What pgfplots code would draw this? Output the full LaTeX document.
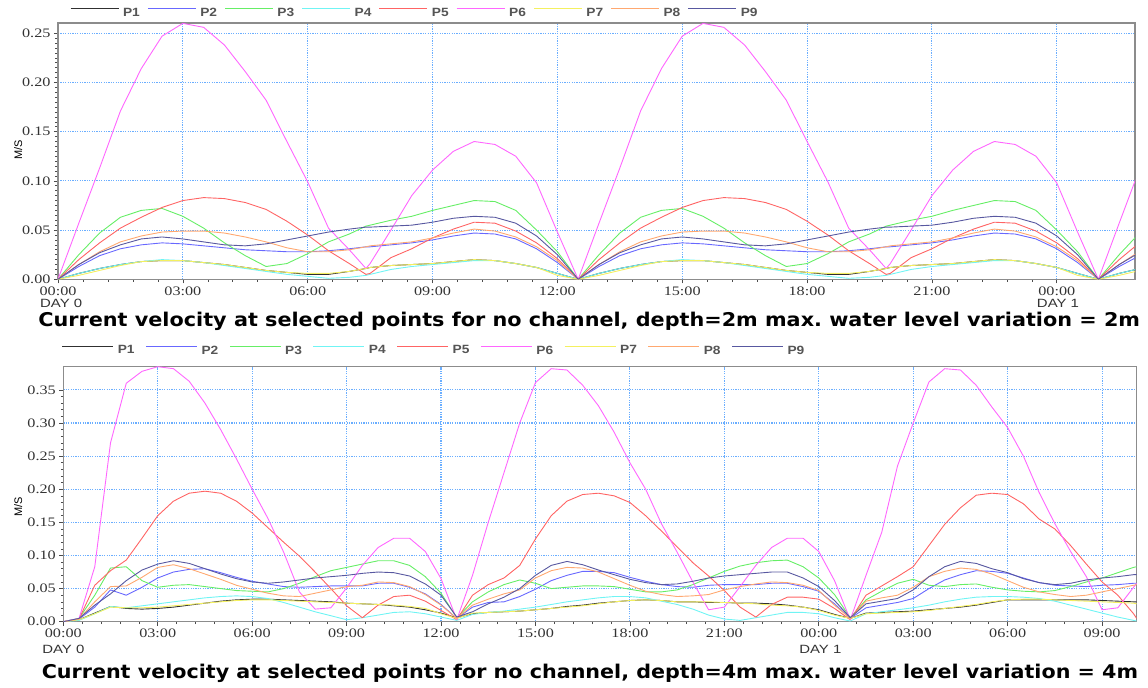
\documentclass[border=0pt]{standalone}
\usepackage{pgfplots}
\pgfplotsset{compat=1.18}
\usepackage{pgfplotstable}
\usepackage{graphicx}
\usepackage{fontspec}
\setmainfont{Liberation Serif}
\newfontfamily\lsans{Liberation Sans}
\newfontfamily\dsans{DejaVu Sans}

\definecolor{cP1}{HTML}{303030}
\definecolor{cP2}{HTML}{6868FF}
\definecolor{cP3}{HTML}{66EE66}
\definecolor{cP4}{HTML}{70F4F4}
\definecolor{cP5}{HTML}{FF6464}
\definecolor{cP6}{HTML}{FF66FF}
\definecolor{cP7}{HTML}{F4F060}
\definecolor{cP8}{HTML}{FFA870}
\definecolor{cP9}{HTML}{5858A0}
\definecolor{gridc}{HTML}{6AAEFF}
\definecolor{legc}{HTML}{555555}
\definecolor{tickc}{HTML}{333333}

\newcommand\tx[1]{\scalebox{1.25}[1]{#1}}
\newcommand\lgd[1]{\scalebox{1.15}[1]{#1}}

\pgfplotstableread{
t p1 p2 p3 p4 p5 p6 p7 p8 p9
0.0 0 0 0 0 0 0 0 0 0
0.5 0.006 0.013 0.025 0.006 0.020 0.057 0.004 0.015 0.015
1.0 0.011 0.024 0.047 0.011 0.037 0.113 0.009 0.028 0.027
1.5 0.015 0.031 0.063 0.015 0.052 0.171 0.014 0.038 0.035
2.0 0.018 0.035 0.070 0.018 0.063 0.214 0.018 0.044 0.041
2.5 0.019 0.037 0.072 0.020 0.073 0.247 0.019 0.048 0.043
3.0 0.019 0.036 0.064 0.019 0.080 0.260 0.019 0.049 0.041
3.5 0.017 0.034 0.052 0.017 0.083 0.256 0.017 0.049 0.038
4.0 0.015 0.032 0.037 0.014 0.082 0.238 0.015 0.047 0.035
4.5 0.012 0.030 0.024 0.011 0.078 0.211 0.012 0.043 0.034
5.0 0.009 0.029 0.013 0.008 0.071 0.182 0.009 0.038 0.036
5.5 0.007 0.028 0.016 0.005 0.059 0.140 0.007 0.032 0.040
6.0 0.005 0.028 0.026 0.003 0.045 0.099 0.006 0.028 0.044
6.5 0.005 0.029 0.038 0.001 0.029 0.052 0.006 0.028 0.048
7.0 0.008 0.031 0.046 0.002 0.016 0.030 0.008 0.030 0.051
7.4 0.011 0.033 0.054 0.004 0.005 0.011 0.011 0.033 0.053
7.5 0.012 0.033 0.055 0.005 0.006 0.016 0.012 0.034 0.053
8.0 0.014 0.035 0.060 0.010 0.022 0.050 0.014 0.036 0.054
8.5 0.015 0.037 0.064 0.013 0.031 0.085 0.015 0.038 0.055
9.0 0.016 0.040 0.070 0.015 0.042 0.111 0.016 0.042 0.058
9.5 0.018 0.044 0.075 0.017 0.051 0.130 0.018 0.047 0.062
10.0 0.020 0.047 0.080 0.019 0.058 0.140 0.020 0.051 0.064
10.5 0.019 0.046 0.079 0.019 0.057 0.137 0.019 0.049 0.063
11.0 0.016 0.041 0.070 0.016 0.049 0.125 0.016 0.043 0.057
11.5 0.012 0.031 0.050 0.012 0.037 0.098 0.012 0.033 0.044
12.0 0.006 0.017 0.028 0.006 0.021 0.048 0.004 0.019 0.025
12.5 0 0 0 0 0 0 0 0 0
13.0 0.006 0.013 0.025 0.006 0.020 0.057 0.004 0.015 0.015
13.5 0.011 0.024 0.047 0.011 0.037 0.113 0.009 0.028 0.027
14.0 0.015 0.031 0.063 0.015 0.052 0.171 0.014 0.038 0.035
14.5 0.018 0.035 0.070 0.018 0.063 0.214 0.018 0.044 0.041
15.0 0.019 0.037 0.072 0.020 0.073 0.247 0.019 0.048 0.043
15.5 0.019 0.036 0.064 0.019 0.080 0.260 0.019 0.049 0.041
16.0 0.017 0.034 0.052 0.017 0.083 0.256 0.017 0.049 0.038
16.5 0.015 0.032 0.037 0.014 0.082 0.238 0.015 0.047 0.035
17.0 0.012 0.030 0.024 0.011 0.078 0.211 0.012 0.043 0.034
17.5 0.009 0.029 0.013 0.008 0.071 0.182 0.009 0.038 0.036
18.0 0.007 0.028 0.016 0.005 0.059 0.140 0.007 0.032 0.040
18.5 0.005 0.028 0.026 0.003 0.045 0.099 0.006 0.028 0.044
19.0 0.005 0.029 0.038 0.001 0.029 0.052 0.006 0.028 0.048
19.5 0.008 0.031 0.046 0.002 0.016 0.030 0.008 0.030 0.051
19.9 0.011 0.033 0.054 0.004 0.005 0.011 0.011 0.033 0.053
20.0 0.012 0.033 0.055 0.005 0.006 0.016 0.012 0.034 0.053
20.5 0.014 0.035 0.060 0.010 0.022 0.050 0.014 0.036 0.054
21.0 0.015 0.037 0.064 0.013 0.031 0.085 0.015 0.038 0.055
21.5 0.016 0.040 0.070 0.015 0.042 0.111 0.016 0.042 0.058
22.0 0.018 0.044 0.075 0.017 0.051 0.130 0.018 0.047 0.062
22.5 0.020 0.047 0.080 0.019 0.058 0.140 0.020 0.051 0.064
23.0 0.019 0.046 0.079 0.019 0.057 0.137 0.019 0.049 0.063
23.5 0.016 0.041 0.070 0.016 0.049 0.125 0.016 0.043 0.057
24.0 0.012 0.031 0.050 0.012 0.037 0.098 0.012 0.033 0.044
24.5 0.006 0.017 0.028 0.006 0.021 0.048 0.004 0.019 0.025
25.0 0 0 0 0 0 0 0 0 0
25.5 0.006 0.013 0.025 0.006 0.020 0.057 0.004 0.015 0.015
25.9 0.010 0.022 0.043 0.010 0.034 0.102 0.008 0.026 0.025
}\toptab

\pgfplotstableread{
t p1 p2 p3 p4 p5 p6 p7 p8 p9
0.0 0 0 0 0 0 0 0 0 0
0.5 0.003 0.004 0.005 0.002 0.004 0.005 0.003 0.004 0.005
1.0 0.013 0.022 0.040 0.012 0.055 0.083 0.012 0.030 0.025
1.5 0.023 0.048 0.081 0.023 0.077 0.270 0.022 0.053 0.042
2.0 0.020 0.040 0.083 0.021 0.093 0.360 0.021 0.054 0.062
2.5 0.019 0.052 0.062 0.024 0.126 0.378 0.021 0.067 0.078
3.0 0.020 0.066 0.052 0.027 0.160 0.385 0.022 0.082 0.087
3.5 0.022 0.075 0.055 0.030 0.182 0.382 0.024 0.086 0.092
4.0 0.025 0.079 0.056 0.033 0.194 0.363 0.026 0.080 0.088
4.5 0.028 0.080 0.053 0.036 0.197 0.330 0.028 0.072 0.080
5.0 0.031 0.074 0.050 0.038 0.194 0.290 0.030 0.064 0.072
5.5 0.033 0.067 0.047 0.039 0.182 0.246 0.032 0.055 0.065
6.0 0.034 0.061 0.046 0.038 0.164 0.200 0.033 0.049 0.060
6.5 0.034 0.057 0.045 0.035 0.142 0.156 0.033 0.043 0.058
7.0 0.033 0.053 0.050 0.029 0.120 0.105 0.032 0.039 0.060
7.5 0.032 0.052 0.058 0.022 0.099 0.045 0.031 0.038 0.063
8.0 0.031 0.053 0.068 0.015 0.075 0.019 0.030 0.043 0.066
8.5 0.030 0.054 0.077 0.009 0.050 0.021 0.029 0.048 0.068
9.0 0.028 0.054 0.082 0.003 0.024 0.051 0.028 0.053 0.070
9.5 0.027 0.054 0.087 0.006 0.006 0.085 0.027 0.055 0.073
10.0 0.026 0.058 0.092 0.010 0.025 0.112 0.026 0.060 0.075
10.5 0.024 0.058 0.092 0.014 0.038 0.126 0.025 0.059 0.074
11.0 0.022 0.052 0.085 0.015 0.040 0.126 0.023 0.053 0.069
11.5 0.018 0.042 0.068 0.012 0.031 0.106 0.020 0.041 0.057
12.0 0.013 0.026 0.043 0.007 0.017 0.065 0.012 0.025 0.040
12.5 0.006 0.005 0.006 0.002 0.003 0.003 0.005 0.005 0.007
13.0 0.012 0.022 0.030 0.011 0.040 0.070 0.013 0.025 0.015
13.5 0.014 0.029 0.045 0.014 0.056 0.150 0.014 0.034 0.027
14.0 0.015 0.030 0.056 0.016 0.066 0.225 0.015 0.042 0.037
14.5 0.016 0.038 0.063 0.019 0.085 0.300 0.016 0.048 0.050
15.0 0.018 0.049 0.058 0.022 0.125 0.361 0.018 0.066 0.070
15.5 0.020 0.062 0.050 0.026 0.160 0.382 0.020 0.077 0.085
16.0 0.023 0.070 0.052 0.030 0.182 0.380 0.022 0.082 0.091
16.5 0.025 0.076 0.054 0.033 0.192 0.357 0.024 0.081 0.086
17.0 0.028 0.076 0.054 0.036 0.194 0.326 0.027 0.075 0.078
17.5 0.030 0.074 0.053 0.038 0.190 0.286 0.030 0.065 0.071
18.0 0.032 0.067 0.049 0.038 0.180 0.240 0.032 0.055 0.064
18.5 0.033 0.061 0.045 0.036 0.160 0.200 0.033 0.046 0.059
19.0 0.032 0.056 0.045 0.031 0.137 0.148 0.032 0.041 0.056
19.5 0.030 0.053 0.048 0.026 0.113 0.105 0.030 0.038 0.057
20.0 0.030 0.052 0.056 0.019 0.089 0.060 0.030 0.039 0.061
20.5 0.029 0.055 0.066 0.010 0.069 0.018 0.030 0.041 0.066
21.0 0.029 0.056 0.076 0.004 0.047 0.022 0.029 0.048 0.069
21.5 0.028 0.056 0.084 0.002 0.022 0.053 0.028 0.053 0.071
22.0 0.028 0.056 0.089 0.006 0.007 0.085 0.027 0.057 0.073
22.5 0.027 0.058 0.092 0.010 0.026 0.112 0.025 0.060 0.075
23.0 0.025 0.058 0.093 0.014 0.037 0.126 0.024 0.059 0.075
23.5 0.022 0.053 0.083 0.014 0.037 0.126 0.022 0.055 0.066
24.0 0.018 0.046 0.066 0.012 0.034 0.106 0.017 0.047 0.053
24.5 0.011 0.027 0.041 0.006 0.020 0.062 0.010 0.025 0.032
25.0 0.005 0.005 0.006 0.001 0.003 0.003 0.005 0.005 0.006
25.5 0.013 0.021 0.033 0.012 0.040 0.070 0.012 0.031 0.027
26.0 0.014 0.025 0.046 0.015 0.054 0.135 0.013 0.036 0.031
26.5 0.015 0.029 0.058 0.018 0.068 0.235 0.014 0.040 0.035
27.0 0.016 0.035 0.064 0.021 0.083 0.300 0.015 0.052 0.048
27.5 0.018 0.050 0.055 0.025 0.115 0.362 0.017 0.068 0.068
28.0 0.020 0.063 0.053 0.030 0.147 0.382 0.020 0.076 0.083
28.5 0.022 0.071 0.056 0.034 0.172 0.380 0.023 0.081 0.091
29.0 0.025 0.077 0.057 0.037 0.191 0.357 0.026 0.079 0.088
29.5 0.029 0.076 0.052 0.038 0.194 0.324 0.030 0.072 0.080
30.0 0.033 0.073 0.048 0.038 0.192 0.293 0.033 0.062 0.074
30.5 0.033 0.066 0.046 0.037 0.178 0.250 0.034 0.052 0.065
31.0 0.033 0.059 0.045 0.035 0.155 0.195 0.034 0.045 0.059
31.5 0.033 0.055 0.047 0.031 0.140 0.148 0.033 0.041 0.056
32.0 0.033 0.054 0.053 0.025 0.115 0.106 0.032 0.038 0.058
32.5 0.033 0.053 0.060 0.019 0.087 0.068 0.031 0.040 0.063
33.0 0.032 0.055 0.066 0.013 0.060 0.018 0.030 0.045 0.066
33.5 0.031 0.056 0.074 0.007 0.040 0.021 0.029 0.050 0.068
34.0 0.030 0.058 0.082 0.002 0.012 0.052 0.028 0.055 0.071
34.1 0.030 0.058 0.083 0.001 0.005 0.058 0.027 0.056 0.071
}\bottab

\pgfplotsset{
  common/.style={
    scale only axis,
    clip mode=individual,
    axis line style={color=black!45, line width=1.1bp},
    grid=major,
    major grid style={color=gridc, line width=1.1bp, dash pattern=on 1.2bp off 1.2bp},
    xtick pos=lower, ytick pos=left,
    tick align=outside,
    major tick length=4bp, minor tick length=2.5bp,
    every tick/.style={color=black!70, line width=0.6bp},
    minor x tick num=4,
    tick label style={font=\fontsize{13}{13}\selectfont, text=tickc},
    yticklabel={\tx{\pgfmathprintnumber[fixed,fixed zerofill,precision=2,assume math mode=true]{\tick}}},
    legend columns=9,
    legend image code/.code={\draw[##1] (0bp,4.3bp) -- (48bp,4.3bp);},
    legend style={draw=none, fill=none, inner sep=0pt, anchor=west,
       font=\lsans\bfseries\fontsize{12}{12}\selectfont, text=legc,
       nodes={inner sep=0pt},
       /tikz/every odd column/.append style={column sep=4bp},
       /tikz/every even column/.append style={column sep=7.5bp}},
    ylabel={\lsans\fontsize{11}{11}\selectfont M/S},
    every axis plot/.append style={line width=0.9bp, line join=round, mark=none},
  },
}

\begin{document}
\begin{tikzpicture}
\useasboundingbox (0,0) rectangle (1148bp,688bp);

% ---------- top panel ----------
\begin{axis}[common,
  at={(58bp,408.7bp)}, anchor=south west,
  width=1077bp, height=256.3bp,
  xmin=0, xmax=25.88, ymin=0, ymax=0.2604,
  xtick={0,3,6,9,12,15,18,21,24},
  xticklabels={\tx{00:00},\tx{03:00},\tx{06:00},\tx{09:00},\tx{12:00},\tx{15:00},\tx{18:00},\tx{21:00},\tx{00:00}},
  ytick={0,0.05,0.1,0.15,0.2,0.25},
  minor y tick num=9,
  ylabel style={at={(axis description cs:-0.037,0.505)}, anchor=center},
  legend style={at={(0.0111,1.040)}},
]
\addplot[draw=cP1] table[x=t,y=p1]{\toptab}; \addlegendentry{\lgd{P1}}
\addplot[draw=cP2] table[x=t,y=p2]{\toptab}; \addlegendentry{\lgd{P2}}
\addplot[draw=cP3] table[x=t,y=p3]{\toptab}; \addlegendentry{\lgd{P3}}
\addplot[draw=cP4] table[x=t,y=p4]{\toptab}; \addlegendentry{\lgd{P4}}
\addplot[draw=cP5] table[x=t,y=p5]{\toptab}; \addlegendentry{\lgd{P5}}
\addplot[draw=cP6] table[x=t,y=p6]{\toptab}; \addlegendentry{\lgd{P6}}
\addplot[draw=cP7] table[x=t,y=p7]{\toptab}; \addlegendentry{\lgd{P7}}
\addplot[draw=cP8] table[x=t,y=p8]{\toptab}; \addlegendentry{\lgd{P8}}
\addplot[draw=cP9] table[x=t,y=p9]{\toptab}; \addlegendentry{\lgd{P9}}
\node[anchor=base, inner sep=0pt, text=tickc, font=\lsans\fontsize{12}{12}\selectfont, yshift=-28bp] at (axis cs:0.077,0) {\tx{DAY 0}};
\node[anchor=base, inner sep=0pt, text=tickc, font=\lsans\fontsize{12}{12}\selectfont, yshift=-28.7bp] at (axis cs:24.03,0) {\tx{DAY 1}};
\end{axis}

% ---------- bottom panel ----------
\begin{axis}[common,
  at={(63.3bp,66.3bp)}, anchor=south west,
  width=1073.4bp, height=255bp,
  xmin=0, xmax=34.1, ymin=0, ymax=0.385,
  xtick={0,3,6,9,12,15,18,21,24,27,30,33},
  xticklabels={\tx{00:00},\tx{03:00},\tx{06:00},\tx{09:00},\tx{12:00},\tx{15:00},\tx{18:00},\tx{21:00},\tx{00:00},\tx{03:00},\tx{06:00},\tx{09:00}},
  ytick={0,0.05,0.1,0.15,0.2,0.25,0.3,0.35},
  minor y tick num=4,
  ylabel style={at={(axis description cs:-0.042,0.45)}, anchor=center},
  legend style={at={(-0.0015,1.063)}, /tikz/every even column/.append style={column sep=11bp}},
  legend image code/.code={\draw[#1] (0bp,4.3bp) -- (51bp,4.3bp);},
]
\addplot[draw=cP1] table[x=t,y=p1]{\bottab}; \addlegendentry{\lgd{P1}}
\addplot[draw=cP2] table[x=t,y=p2]{\bottab}; \addlegendentry{\lgd{P2}}
\addplot[draw=cP3] table[x=t,y=p3]{\bottab}; \addlegendentry{\lgd{P3}}
\addplot[draw=cP4] table[x=t,y=p4]{\bottab}; \addlegendentry{\lgd{P4}}
\addplot[draw=cP5] table[x=t,y=p5]{\bottab}; \addlegendentry{\lgd{P5}}
\addplot[draw=cP6] table[x=t,y=p6]{\bottab}; \addlegendentry{\lgd{P6}}
\addplot[draw=cP7] table[x=t,y=p7]{\bottab}; \addlegendentry{\lgd{P7}}
\addplot[draw=cP8] table[x=t,y=p8]{\bottab}; \addlegendentry{\lgd{P8}}
\addplot[draw=cP9] table[x=t,y=p9]{\bottab}; \addlegendentry{\lgd{P9}}
\node[anchor=base, inner sep=0pt, text=tickc, font=\lsans\fontsize{12}{12}\selectfont, yshift=-31.6bp] at (axis cs:0,0) {\tx{DAY 0}};
\node[anchor=base, inner sep=0pt, text=tickc, font=\lsans\fontsize{12}{12}\selectfont, yshift=-31.6bp] at (axis cs:24.05,0) {\tx{DAY 1}};
\end{axis}

% ---------- titles ----------
\node[anchor=base, inner sep=0pt] at (589.2bp,361.3bp) {\resizebox{1101.7bp}{\height}{\dsans\bfseries\fontsize{19}{19}\selectfont Current velocity at selected points for no channel, depth=2m max.\ water level variation = 2m}};
\node[anchor=base, inner sep=0pt] at (589.9bp,10bp) {\resizebox{1096.3bp}{\height}{\dsans\bfseries\fontsize{19}{19}\selectfont Current velocity at selected points for no channel, depth=4m max.\ water level variation = 4m}};
\end{tikzpicture}
\end{document}
